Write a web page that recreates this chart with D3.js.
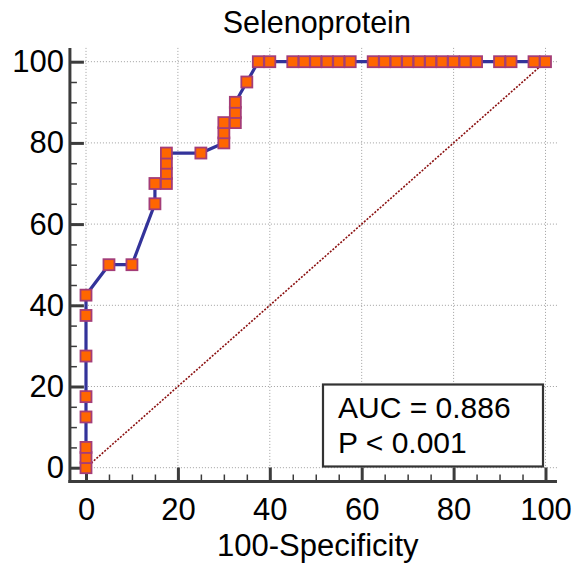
<!DOCTYPE html>
<html>
<head>
<meta charset="utf-8">
<script src="https://cdn.jsdelivr.net/npm/d3@7"></script>
<style>
  body { margin: 0; background: #fff; }
  text { font-family: "Liberation Sans", Arial, sans-serif; fill: #000; }
</style>
</head>
<body>
<div id="chart"></div>
<script>
// ROC points (100-Specificity, Sensitivity)
var specValues = [0, 0, 0, 0, 0, 0, 0, 0, 5, 10, 15, 15, 17.5, 17.5, 17.5, 17.5, 25, 30, 30, 30,
    32.5, 32.5, 32.5, 35, 37.5, 40, 45, 47.5, 50, 52.5, 55, 57.5, 62.5, 65, 67.5, 70, 72.5,
    75, 77.5, 80, 82.5, 85, 90, 92.5, 97.5, 100];
var sensValues = [0, 2.5, 5, 12.5, 17.5, 27.5, 37.5, 42.5, 50, 50, 65, 70, 70, 72.5, 75, 77.5, 77.5, 80, 82.5, 85,
    85, 87.5, 90, 95, 100, 100, 100, 100, 100, 100, 100, 100, 100, 100, 100, 100, 100,
    100, 100, 100, 100, 100, 100, 100, 100, 100];
var majorTicks = [0, 20, 40, 60, 80, 100];
var chartTitle = "Selenoprotein";
var xTitle = "100-Specificity";
var statLines = ["AUC = 0.886", "P < 0.001"];

var width = 574, height = 565;

var svg = d3.select("#chart").append("svg")
    .attr("width", width)
    .attr("height", height);

// Scales
var x = d3.scaleLinear().domain([0, 100]).range([86, 545.5]);
var y = d3.scaleLinear().domain([0, 100]).range([467.7, 61.7]);

// frame limits (a bit outside the data range)
var xLo = x(-3.5), xHi = x(102.5);
var yLo = y(-3.4), yHi = y(103.4);

var minorTicks = d3.range(0, 101, 5);

// Grid
var grid = svg.append("g")
    .attr("stroke", "#a0a0a0")
    .attr("stroke-width", 1)
    .attr("stroke-dasharray", "1,2");

grid.selectAll(".vgrid")
    .data(majorTicks)
    .enter().append("line")
    .attr("x1", function(d) { return x(d); })
    .attr("x2", function(d) { return x(d); })
    .attr("y1", yHi)
    .attr("y2", yLo);

grid.selectAll(".hgrid")
    .data(majorTicks)
    .enter().append("line")
    .attr("y1", function(d) { return y(d); })
    .attr("y2", function(d) { return y(d); })
    .attr("x1", xLo)
    .attr("x2", xHi);

// Diagonal reference
svg.append("line")
    .attr("x1", x(0)).attr("y1", y(0))
    .attr("x2", x(100)).attr("y2", y(100))
    .attr("stroke", "#8b1010")
    .attr("stroke-width", 1.6)
    .attr("stroke-dasharray", "2,1.5");

// Axes
var axisColor = "#3c3c3c";

var yMinor = d3.axisLeft(y).tickValues(minorTicks).tickSize(-7).tickFormat("");
var yMajor = d3.axisLeft(y).tickValues(majorTicks).tickSize(-14).tickPadding(6);
var xMinor = d3.axisBottom(x).tickValues(minorTicks).tickSize(-7).tickFormat("");
var xMajor = d3.axisBottom(x).tickValues(majorTicks).tickSize(-14).tickPadding(16);

function styleAxis(g, w) {
    g.select(".domain").remove();
    g.selectAll(".tick line").attr("stroke", axisColor).attr("stroke-width", w);
    g.selectAll(".tick text")
        .style("font-family", "'Liberation Sans', Arial, sans-serif")
        .style("font-size", "31px")
        .attr("fill", "#000");
}

svg.append("g").attr("transform", "translate(" + xLo + ",0)").call(yMinor).call(styleAxis, 1.5);
svg.append("g").attr("transform", "translate(" + xLo + ",0)").call(yMajor).call(styleAxis, 3);
svg.append("g").attr("transform", "translate(0," + yLo + ")").call(xMinor).call(styleAxis, 1.5);
svg.append("g").attr("transform", "translate(0," + yLo + ")").call(xMajor).call(styleAxis, 3);

// axis lines
svg.append("line")
    .attr("x1", xLo).attr("x2", xLo)
    .attr("y1", yHi).attr("y2", yLo + 1.5)
    .attr("stroke", axisColor).attr("stroke-width", 3);
svg.append("line")
    .attr("x1", xLo - 1.5).attr("x2", xHi)
    .attr("y1", yLo).attr("y2", yLo)
    .attr("stroke", axisColor).attr("stroke-width", 3);

// ROC curve
var points = specValues.map(function(d, i) { return {x: d, y: sensValues[i]}; });

var line = d3.line()
    .x(function(d) { return x(d.x); })
    .y(function(d) { return y(d.y); });

svg.append("path")
    .datum(points)
    .attr("fill", "none")
    .attr("stroke", "#33339a")
    .attr("stroke-width", 3.2)
    .attr("d", line);

// markers
var size = 11;
svg.selectAll(".mark")
    .data(points)
    .enter().append("rect")
    .attr("class", "mark")
    .attr("x", function(d) { return x(d.x) - size / 2; })
    .attr("y", function(d) { return y(d.y) - size / 2; })
    .attr("width", size)
    .attr("height", size)
    .attr("fill", "#ff6600")
    .attr("stroke", "#a43d78")
    .attr("stroke-width", 1.8);

// Title
svg.append("text")
    .attr("x", (x(0) + x(100)) / 2 + 1)
    .attr("y", 33)
    .attr("text-anchor", "middle")
    .style("font-size", "30.5px")
    .text(chartTitle);

svg.append("text")
    .attr("x", (x(0) + x(100)) / 2 + 2)
    .attr("y", 556)
    .attr("text-anchor", "middle")
    .style("font-size", "31px")
    .text(xTitle);

// AUC box
var box = svg.append("g");
box.append("rect")
    .attr("x", 323)
    .attr("y", 384.5)
    .attr("width", 220)
    .attr("height", 82)
    .attr("fill", "#fff")
    .attr("stroke", "#333")
    .attr("stroke-width", 2.2);

box.selectAll(".stat")
    .data(statLines)
    .enter().append("text")
    .attr("class", "stat")
    .attr("x", 338)
    .attr("y", function(d, i) { return 418 + i * 34.5; })
    .style("font-size", "30px")
    .text(function(d) { return d; });
</script>
</body>
</html>
